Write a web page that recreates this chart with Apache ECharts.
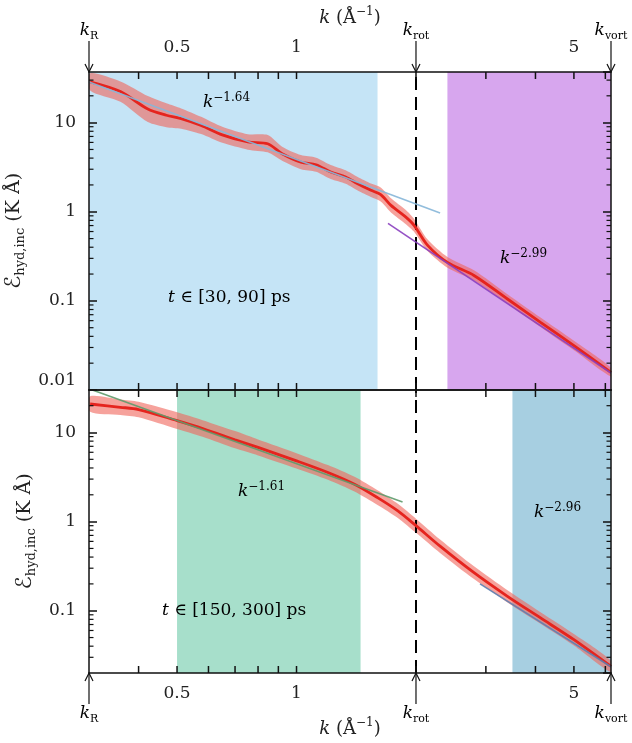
<!DOCTYPE html>
<html>
<head>
<meta charset="utf-8">
<script src="https://cdn.jsdelivr.net/npm/echarts@6/dist/echarts.min.js"></script>
<style>
  html, body { margin: 0; padding: 0; background: #fff; }
  #chart { width: 632px; height: 743px; }
</style>
</head>
<body>
<div id="chart"></div>
<script>
// k in 1/Angstrom, energy spectrum in K Angstrom
const kTop = [0.302, 0.36, 0.422, 0.47, 0.512, 0.575, 0.65, 0.754, 0.846, 0.92, 1.026, 1.12, 1.22, 1.33, 1.426, 1.54, 1.63, 1.73, 1.886, 1.98, 2.14, 2.40, 2.80, 3.40, 4.12, 5.0, 6.2];
const eTop = [28.7, 22.3, 14.2, 12.1, 11.1, 9.3, 7.3, 6.07, 5.8, 4.48, 3.6, 3.37, 2.79, 2.45, 2.06, 1.74, 1.56, 1.18, 0.87, 0.70, 0.42, 0.27, 0.193, 0.105, 0.0575, 0.0315, 0.0158];
// spread of the shaded band (factor above/below the mean)
const spreadTop = [1.25, 1.3, 1.4, 1.36, 1.3, 1.25, 1.23, 1.22, 1.25, 1.2, 1.2, 1.2, 1.2, 1.19, 1.19, 1.19, 1.2, 1.2, 1.2, 1.18, 1.16, 1.15, 1.14, 1.13, 1.13, 1.13, 1.12];
const kBot = [0.302, 0.36, 0.40, 0.5, 0.58, 0.7, 0.8, 1.0, 1.2, 1.4, 1.6, 1.8, 2.0, 2.3, 2.8, 3.4, 4.12, 5.0, 6.2];
const eBot = [20.9, 19.2, 18.1, 13.6, 11.1, 8.3, 6.8, 4.81, 3.56, 2.63, 1.86, 1.32, 0.9, 0.53, 0.267, 0.145, 0.083, 0.0473, 0.0237];
const spreadBot = [1.22, 1.22, 1.22, 1.24, 1.24, 1.25, 1.23, 1.22, 1.21, 1.21, 1.21, 1.2, 1.2, 1.19, 1.18, 1.17, 1.16, 1.16, 1.16];

// power-law fits, endpoints
const fitTopLow = [[0.3, 28.5], [2.3, 0.97]];    // k^-1.64
const fitTopHigh = [[1.7, 0.74], [6.2, 0.0155]];  // k^-2.99
const fitBotLow = [[0.3, 31], [1.85, 1.66]];      // k^-1.61
const fitBotHigh = [[2.9, 0.2], [6.2, 0.0235]];   // k^-2.96

// shaded fit windows
const winTop = [[0.3, 1.6, '#c5e4f6'], [2.4, 6.2, '#d7a6ee']];
const winBot = [[0.5, 1.45, '#a7dfcb'], [3.5, 6.2, '#a7cfe1']];

const markK = [0.3, 2, 6.2];
const markNames = ['R', 'rot', 'vort'];
const kRot = 2;

const xTickVals = [0.4, 0.5, 0.6, 0.7, 0.8, 0.9, 1, 2, 3, 4, 5, 6];
const xLabelVals = [0.5, 1, 5];
const yMinorTop = [0.02, 0.03, 0.04, 0.05, 0.06, 0.07, 0.08, 0.09, 0.2, 0.3, 0.4, 0.5, 0.6, 0.7, 0.8, 0.9, 2, 3, 4, 5, 6, 7, 8, 9, 20, 30];
const yMinorBot = [0.03, 0.04, 0.05, 0.06, 0.07, 0.08, 0.09, 0.2, 0.3, 0.4, 0.5, 0.6, 0.7, 0.8, 0.9, 2, 3, 4, 5, 6, 7, 8, 9, 20];

const FONT = 'DejaVu Serif';
const INK = '#222';
const zip = (a, b) => a.map((v, i) => [v, b[i]]);

const rich = {
  i: { fontFamily: FONT, fontStyle: 'italic', fontSize: 17, color: INK, lineHeight: 22 },
  n: { fontFamily: FONT, fontSize: 17, color: INK, lineHeight: 22 },
  sub: { fontFamily: FONT, fontSize: 11, color: INK, lineHeight: 12, verticalAlign: 'bottom' },
  sup: { fontFamily: FONT, fontSize: 12, color: INK, lineHeight: 12, verticalAlign: 'top' },
  ni: { fontFamily: FONT, fontStyle: 'italic', fontSize: 18, color: INK, lineHeight: 24 },
  nn: { fontFamily: FONT, fontSize: 18, color: INK, lineHeight: 24 },
  nsup: { fontFamily: FONT, fontSize: 12, color: INK, lineHeight: 13, verticalAlign: 'top' },
  e: { fontFamily: 'DejaVu Sans', fontStyle: 'italic', fontSize: 22, color: INK, lineHeight: 26 },
  es: { fontFamily: FONT, fontSize: 13, color: INK, lineHeight: 14, verticalAlign: 'bottom' },
  en: { fontFamily: FONT, fontSize: 19, color: INK, lineHeight: 26 },
  up: { fontFamily: FONT, fontSize: 17, color: INK, padding: [0, 0, 18, 0] }
};
const axLine = { color: '#111', width: 1.5 };
const kName = '{ni|k}{nn| (Å}{nsup|−1}{nn|)}';

function xAxes(gi, labelSide) {
  return ['bottom', 'top'].map(pos => ({
    type: 'log', gridIndex: gi, position: pos, min: 0.3, max: 6.2, z: 10,
    axisLine: { onZero: false, lineStyle: axLine },
    axisTick: { show: false },
    axisLabel: {
      show: pos === labelSide, customValues: xLabelVals, margin: pos === 'top' ? 16 : 12,
      fontFamily: FONT, fontSize: 17, color: INK
    },
    splitLine: { show: false },
    name: pos === labelSide ? kName : '', nameLocation: 'middle', nameGap: pos === 'top' ? 42 : 44,
    nameTextStyle: { rich: rich }
  }));
}

function yAxes(gi, min, max, showMin) {
  const base = { type: 'log', gridIndex: gi, min: min, max: max, z: 10, splitLine: { show: false } };
  return [
    Object.assign({}, base, {
      position: 'left',
      axisLine: { show: true, lineStyle: axLine },
      axisTick: { inside: true, length: 8, lineStyle: axLine },
      axisLabel: {
        fontFamily: FONT, fontSize: 17, color: INK, margin: 13, showMaxLabel: false, showMinLabel: showMin,
        formatter: v => (v === 0.01 ? '{up|0.01}' : String(v)), rich: rich
      },
      name: '{e|ℰ}{es|hyd,inc}{en| (K Å)}', nameLocation: 'middle', nameGap: 50, nameRotate: 90,
      nameTextStyle: { rich: rich }
    }),
    Object.assign({}, base, {
      position: 'right',
      axisLine: { show: true, lineStyle: axLine },
      axisTick: { inside: true, length: 8, lineStyle: axLine },
      axisLabel: { show: false }
    })
  ];
}

// inward tick marks on the frame, placed through the axes
function xTicks(xi, yi) {
  return {
    type: 'custom', xAxisIndex: xi, yAxisIndex: yi, z: 11, silent: true,
    data: xTickVals.map(v => [v, 1]),
    renderItem: function (params, api) {
      const cs = params.coordSys;
      const x = api.coord([api.value(0), 1])[0];
      const st = { stroke: '#111', lineWidth: 1.5 };
      return {
        type: 'group', children: [
          { type: 'line', shape: { x1: x, y1: cs.y, x2: x, y2: cs.y + 7 }, style: st },
          { type: 'line', shape: { x1: x, y1: cs.y + cs.height - 7, x2: x, y2: cs.y + cs.height }, style: st }
        ]
      };
    }
  };
}

function yMinorTicks(xi, yi, vals) {
  return {
    type: 'custom', xAxisIndex: xi, yAxisIndex: yi, z: 11, silent: true,
    data: vals.map(v => [1, v]),
    renderItem: function (params, api) {
      const cs = params.coordSys;
      const y = api.coord([1, api.value(1)])[1];
      const st = { stroke: '#111', lineWidth: 1.2 };
      return {
        type: 'group', children: [
          { type: 'line', shape: { x1: cs.x, y1: y, x2: cs.x + 4.5, y2: y }, style: st },
          { type: 'line', shape: { x1: cs.x + cs.width - 4.5, y1: y, x2: cs.x + cs.width, y2: y }, style: st }
        ]
      };
    }
  };
}

function arrows(xi, yi, top) {
  return {
    type: 'custom', xAxisIndex: xi, yAxisIndex: yi, z: 12, silent: true,
    data: markK.map((k, i) => [k, 1, i]),
    renderItem: function (params, api) {
      const cs = params.coordSys;
      const x = api.coord([api.value(0), 1])[0];
      const name = markNames[api.value(2)];
      const y0 = top ? cs.y : cs.y + cs.height;
      const d = top ? -1 : 1;
      const st = { stroke: '#111', lineWidth: 1.2, fill: null };
      return {
        type: 'group',
        children: [
          { type: 'line', shape: { x1: x, y1: y0 + d * 31, x2: x, y2: y0 }, style: st },
          { type: 'polyline', shape: { points: [[x - 4, y0 + d * 8], [x, y0], [x + 4, y0 + d * 8]] }, style: st },
          {
            type: 'text', x: x, y: y0 + d * 41,
            style: { text: '{i|k}{sub|' + name + '}', rich: rich, align: 'center', verticalAlign: 'middle' }
          }
        ]
      };
    }
  };
}

// shaded uncertainty band drawn as a polygon through the axes
function band(xi, yi, k, e, s) {
  return {
    type: 'custom', xAxisIndex: xi, yAxisIndex: yi, z: 2, silent: true, clip: true,
    data: [0],
    renderItem: function (params, api) {
      const hi = k.map((kv, i) => api.coord([kv, e[i] * s[i]]));
      const lo = k.map((kv, i) => api.coord([kv, e[i] / s[i]])).reverse();
      return {
        type: 'polygon',
        shape: { points: hi.concat(lo), smooth: 0.25 },
        style: { fill: 'rgba(240,100,90,0.6)', stroke: null }
      };
    }
  };
}

function panel(k, e, s, fitA, fitB, colA, colB, wins, xi, yi) {
  return [
    band(xi, yi, k, e, s),
    {
      type: 'line', xAxisIndex: xi, yAxisIndex: yi, data: zip(k, e), smooth: 0.3, showSymbol: false, z: 4,
      lineStyle: { color: '#e5241e', width: 2.8 },
      markArea: {
        silent: true, z: 1,
        data: wins.map(w => [{ xAxis: w[0], itemStyle: { color: w[2], opacity: 1 } }, { xAxis: w[1] }])
      },
      markLine: {
        silent: true, symbol: 'none', z: 3, label: { show: false },
        lineStyle: { color: '#000', width: 2, type: [13, 7] },
        data: [{ xAxis: kRot }]
      }
    },
    {
      type: 'line', xAxisIndex: xi, yAxisIndex: yi, data: fitA, showSymbol: false, z: 5,
      lineStyle: { color: colA, width: 1.6, opacity: 0.9 }
    },
    {
      type: 'line', xAxisIndex: xi, yAxisIndex: yi, data: fitB, showSymbol: false, z: 5,
      lineStyle: { color: colB, width: 1.6, opacity: 0.9 }
    }
  ];
}

function note(left, top, text) {
  return { type: 'text', left: left, top: top, z: 20, style: { text: text, rich: rich } };
}

const chart = echarts.init(document.getElementById('chart'));
chart.setOption({
  animation: false,
  backgroundColor: '#fff',
  grid: [
    { left: 89, top: 72, width: 522, height: 318, outerBoundsMode: 'none' },
    { left: 89, top: 390, width: 522, height: 283, outerBoundsMode: 'none' }
  ],
  xAxis: xAxes(0, 'top').concat(xAxes(1, 'bottom')),
  yAxis: yAxes(0, 0.01, 37, true).concat(yAxes(1, 0.02, 30, false)),
  series: panel(kTop, eTop, spreadTop, fitTopLow, fitTopHigh, '#86b6d8', '#8a3fbf', winTop, 0, 0)
    .concat(panel(kBot, eBot, spreadBot, fitBotLow, fitBotHigh, '#5f9a6c', '#5b80b2', winBot, 2, 2))
    .concat([
      xTicks(0, 0), xTicks(2, 2),
      yMinorTicks(0, 0, yMinorTop), yMinorTicks(2, 2, yMinorBot),
      arrows(1, 0, true), arrows(2, 2, false)
    ]),
  graphic: [
    note(203, 92, '{i|k}{sup|−1.64}'),
    note(500, 248, '{i|k}{sup|−2.99}'),
    note(168, 289, '{i|t}{n| ∈ [30, 90] ps}'),
    note(238, 481, '{i|k}{sup|−1.61}'),
    note(534, 502, '{i|k}{sup|−2.96}'),
    note(162, 602, '{i|t}{n| ∈ [150, 300] ps}')
  ]
});
</script>
</body>
</html>
